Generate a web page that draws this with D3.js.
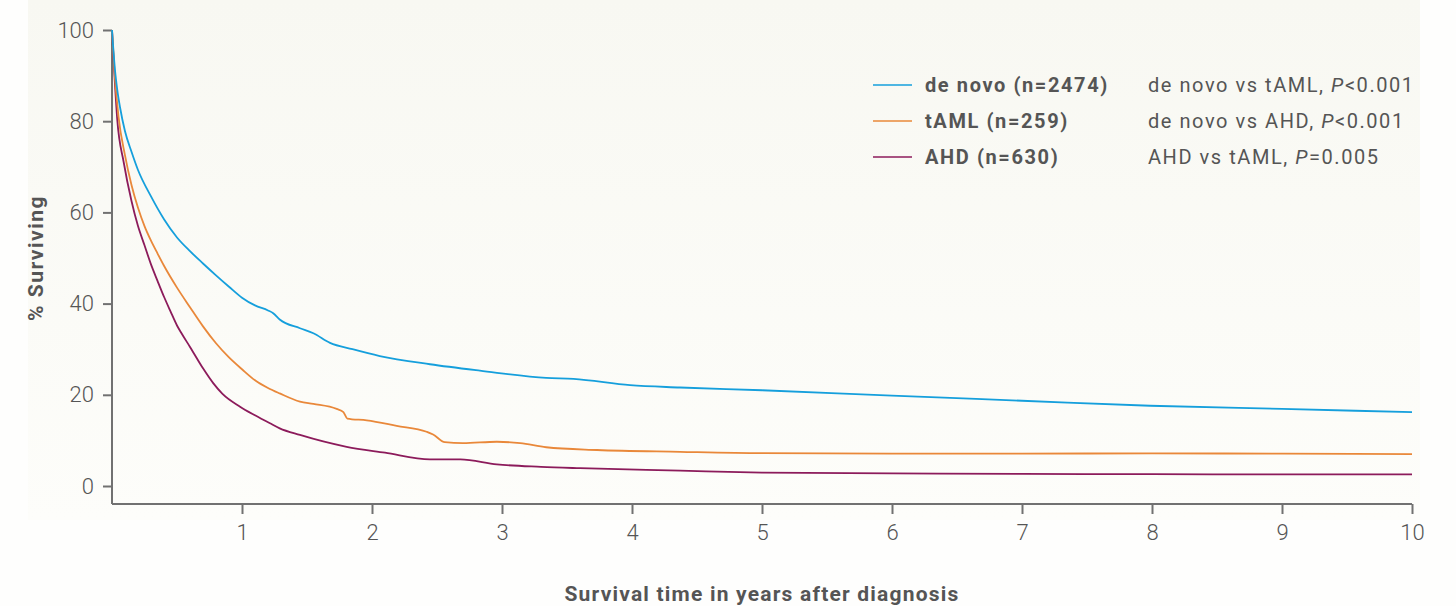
<!DOCTYPE html>
<html>
<head>
<meta charset="utf-8">
<script src="https://cdn.jsdelivr.net/npm/d3@7"></script>
<style>
  html, body { margin: 0; padding: 0; background: #fefefd; }
  svg { display: block; }
  text { font-family: Roboto, "Noto Sans", sans-serif; }
</style>
</head>
<body>
<svg id="chart" width="1456" height="606"></svg>
<script>
// ---- Data ----
const deNovoT = [0, 0.023, 0.04, 0.062, 0.1, 0.15, 0.2, 0.3, 0.4, 0.5, 0.6, 0.7, 0.8, 0.9, 1.0, 1.1, 1.2, 1.24, 1.29, 1.446, 1.549, 1.677, 1.85, 2.06, 2.446, 2.83, 3.34, 3.55, 3.985, 4.37, 5, 6, 7, 7.985, 9, 10];
const deNovoV = [100, 91.2, 87.0, 83.0, 77.8, 73.3, 69.3, 63.5, 58.5, 54.5, 51.5, 48.8, 46.2, 43.7, 41.3, 39.6, 38.5, 37.9, 36.5, 34.6, 33.5, 31.4, 30, 28.5, 26.7, 25.3, 23.7, 23.5, 22.1, 21.6, 21.0, 19.8, 18.7, 17.6, 16.9, 16.2];

const tamlT = [0, 0.02, 0.05, 0.1, 0.15, 0.2, 0.25, 0.3, 0.35, 0.4, 0.5, 0.6, 0.7, 0.8, 0.9, 1.0, 1.1, 1.2, 1.29, 1.446, 1.549, 1.728, 1.78, 1.81, 1.96, 2.19, 2.42, 2.47, 2.56, 2.70, 2.96, 3.14, 3.34, 3.73, 4.37, 5, 6, 7, 8, 9, 10];
const tamlV = [100, 90.5, 81, 72.5, 66, 61, 57, 53.8, 51, 48.3, 43.5, 39.2, 35.0, 31.3, 28.2, 25.6, 23.2, 21.5, 20.3, 18.5, 18, 16.9, 16.2, 14.8, 14.4, 13.2, 11.9, 11.3, 9.6, 9.4, 9.7, 9.4, 8.5, 7.9, 7.5, 7.2, 7.1, 7.1, 7.15, 7.1, 7.0];

const ahdT = [0, 0.018, 0.04, 0.09, 0.15, 0.2, 0.25, 0.3, 0.35, 0.4, 0.45, 0.5, 0.53, 0.6, 0.7, 0.78, 0.85, 0.985, 1.1, 1.215, 1.29, 1.446, 1.805, 2.1, 2.446, 2.68, 2.96, 3.3, 3.6, 4.37, 5, 6, 7, 8, 9, 10];
const ahdV = [100, 90.5, 80.5, 71, 62.5, 57, 52.8, 48.6, 45, 41.5, 38.3, 35.2, 33.7, 30.5, 25.8, 22.5, 20.2, 17.4, 15.5, 13.75, 12.65, 11.2, 8.6, 7.3, 5.85, 5.85, 4.75, 4.2, 3.9, 3.37, 2.95, 2.75, 2.65, 2.6, 2.55, 2.55];

const seriesNames = ["de novo (n=2474)", "tAML (n=259)", "AHD (n=630)"];
const seriesColors = ["#159fdc", "#e9883a", "#8c1b5b"];
const pValueLabels = [
  ["de novo vs tAML, ", "P", "<0.001"],
  ["de novo vs AHD, ", "P", "<0.001"],
  ["AHD vs tAML, ", "P", "=0.005"]
];
const xTicks = [1, 2, 3, 4, 5, 6, 7, 8, 9, 10];
const yTicks = [0, 20, 40, 60, 80, 100];

// ---- Chart ----
const svg = d3.select("#chart");
const W = 1456, H = 606;

const defs = svg.append("defs");
const grad = defs.append("linearGradient").attr("id", "bg").attr("x1", 0).attr("y1", 0).attr("x2", 0).attr("y2", 1);
grad.append("stop").attr("offset", "0%").attr("stop-color", "#f8f8f2");
grad.append("stop").attr("offset", "100%").attr("stop-color", "#fdfdfa");

svg.append("rect").attr("x", 0).attr("y", 0).attr("width", W).attr("height", H).attr("fill", "#fefefd");
svg.append("rect").attr("x", 28).attr("y", 0).attr("width", 1392).attr("height", 520).attr("fill", "url(#bg)");

const x = d3.scaleLinear().domain([0, 10]).range([112, 1412]);
const y = d3.scaleLinear().domain([0, 100]).range([486, 30]);
const axisY = 504;
const axisColor = "#717171";
const textColor = "#555";

// X axis
const xAxis = svg.append("g").attr("transform", `translate(0,${axisY})`)
  .call(d3.axisBottom(x).tickValues(xTicks).tickSize(10).tickSizeOuter(0).tickPadding(10).tickFormat(d3.format("d")));
xAxis.select(".domain").attr("stroke", axisColor).attr("stroke-width", 2).attr("d", `M${x(0)},0H${x(10)}`);
xAxis.selectAll(".tick line").attr("stroke", axisColor).attr("stroke-width", 2);
xAxis.selectAll(".tick text").attr("fill", textColor).attr("font-size", 22).attr("font-weight", 300)
  .style("font-family", "Roboto, sans-serif");

// Y axis
const yAxis = svg.append("g").attr("transform", `translate(${x(0)},0)`)
  .call(d3.axisLeft(y).tickValues(yTicks).tickSize(9).tickSizeOuter(0).tickPadding(9));
yAxis.select(".domain").attr("stroke", axisColor).attr("stroke-width", 2).attr("d", `M0,${y(100)}V${axisY}`);
yAxis.selectAll(".tick line").attr("stroke", axisColor).attr("stroke-width", 2);
yAxis.selectAll(".tick text").attr("fill", textColor).attr("font-size", 22).attr("font-weight", 300)
  .style("font-family", "Roboto, sans-serif");

// Axis titles
svg.append("text").attr("x", x(5)).attr("y", 601).attr("text-anchor", "middle")
  .attr("fill", textColor).attr("font-size", 21).attr("font-weight", 700).attr("letter-spacing", 1.2)
  .text("Survival time in years after diagnosis");
svg.append("text").attr("transform", "translate(43,258) rotate(-90)").attr("text-anchor", "middle")
  .attr("fill", textColor).attr("font-size", 21).attr("font-weight", 700).attr("letter-spacing", 1.5)
  .text("% Surviving");

// Curves
const line = d3.line().x(d => x(d[0])).y(d => y(d[1])).curve(d3.curveMonotoneX);
const seriesData = [
  d3.zip(deNovoT, deNovoV),
  d3.zip(tamlT, tamlV),
  d3.zip(ahdT, ahdV)
];
[2, 1, 0].forEach(i => {
  svg.append("path").datum(seriesData[i]).attr("d", line)
    .attr("fill", "none").attr("stroke", seriesColors[i]).attr("stroke-width", 1.8);
});

// Legend
const legY = [85, 121, 157];
seriesNames.forEach((name, i) => {
  svg.append("line").attr("x1", 873).attr("x2", 912).attr("y1", legY[i]).attr("y2", legY[i])
    .attr("stroke", seriesColors[i]).attr("stroke-width", 1.5);
  svg.append("text").attr("x", 925).attr("y", legY[i] + 7).attr("fill", textColor)
    .attr("font-size", 20).attr("font-weight", 700).attr("letter-spacing", 1.6).text(name);
  const t = svg.append("text").attr("x", 1148).attr("y", legY[i] + 7).attr("fill", textColor)
    .attr("font-size", 20).attr("font-weight", 400).attr("letter-spacing", 1.55);
  t.append("tspan").text(pValueLabels[i][0]);
  t.append("tspan").attr("font-style", "italic").text(pValueLabels[i][1]);
  t.append("tspan").text(pValueLabels[i][2]);
});
</script>
</body>
</html>
